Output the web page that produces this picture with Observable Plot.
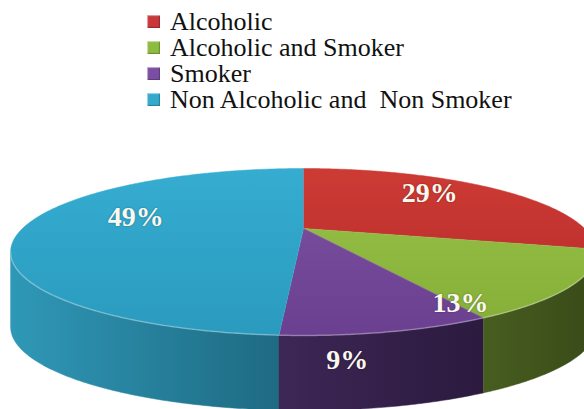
<!DOCTYPE html>
<html><head><meta charset="utf-8">
<script src="https://cdn.jsdelivr.net/npm/d3@7"></script>
<script src="https://cdn.jsdelivr.net/npm/@observablehq/plot@0.6"></script>
<style>
body{margin:0;background:#fff;overflow:hidden}
#chart{position:relative;width:584px;height:409px;overflow:hidden;background:#fff}
#legend{position:relative;width:584px;height:122px;color:#111}
.row{position:absolute;left:0;width:584px;height:26px}
.sw{position:absolute;left:147px;top:6px;width:13px;height:13px;box-shadow:inset 1px 1px 1px rgba(255,255,255,.55),inset -1px -1px 1px rgba(0,0,0,.25)}
.tx{position:absolute;left:170px;top:0;font-size:26px;line-height:26px;white-space:pre}
.pct{position:absolute;transform:translate(-50%,-50%);font-weight:bold;font-size:28px;line-height:28px;color:#fbf8ef;white-space:nowrap;text-shadow:0 0 2px rgba(0,0,0,.35)}
</style>
</head><body><div id="chart"><div id="legend"></div></div>
<script>
// ---- data ----
const categories = ["Alcoholic", "Alcoholic and Smoker", "Smoker", "Non Alcoholic and\u00a0 Non Smoker"];
const values = [29, 13, 9, 49];
const valueLabels = ["29%", "13%", "9%", "49%"];

// ---- styles ----
const serifFace = "'Liberation Serif'";
const topColors = [["#cd3b34", "#b3272a"], ["#98c348", "#84ad37"], ["#7e52a4", "#6a3f8f"], ["#35add1", "#2a9abd"]];
const wallColors = [["#8a2222", "#6e1a1a"], ["#4c6323", "#3a4c18"], ["#3f2959", "#2c1a3f"], ["#2f98b7", "#1e6a82"]];
const legendColors = ["#c8373a", "#8cbb3f", "#7a4fa3", "#33a9cc"];

// ---- layout ----
const W = 584, H = 409, legendH = 122;
const legendBase = 31, lineH = 26, baselineInRow = 22;

// ---- legend (HTML, above the SVG) ----
const legend = d3.select("#legend");
categories.forEach((c, i) => {
  const row = legend.append("div").attr("class", "row").style("top", (legendBase + i * lineH - baselineInRow) + "px");
  row.append("div").attr("class", "sw").style("background", legendColors[i]);
  row.append("div").attr("class", "tx").attr("style", `font-family:${serifFace}`).text(c);
});

// ---- geometry (perspective 3D pie, page coordinates) ----
const cx = 303, cy = 228, K = 961, D = 3.419, sinP = 0.2735, cosP = Math.sqrt(1 - sinP * sinP), wall = 75;
function proj(theta, r = 1, drop = 0) {
  const X = r * Math.sin(theta), Z = r * Math.cos(theta);
  const depth = D + Z * cosP;
  return {x: cx + K * X / depth, y: cy - K * Z * sinP / depth + drop};
}
function arcPts(a0, a1, drop = 0) {
  const n = Math.max(2, Math.ceil(Math.abs(a1 - a0) / (Math.PI / 360)));
  return d3.range(n + 1).map(k => proj(a0 + (a1 - a0) * k / n, 1, drop));
}
const arcs = d3.pie().sort(null).value(d => d)(values);
const thL = Math.acos(-cosP / D), thR = 2 * Math.PI - thL;

// label placement (angle deg, radius, drop as fraction of wall)
const labelPlace = [[45, 0.73, 0], [150, 0.88, 0], [173.5, 1, 0.35], [283, 0.635, 0]];
const labelPts = labelPlace.map(([a, r, f], i) => ({...proj(a * Math.PI / 180, r, f * wall), text: valueLabels[i]}));

const tops = arcs.map((a) => [{x: cx, y: cy}, ...arcPts(a.startAngle, a.endAngle)]);
const walls = arcs.map((a, i) => {
  const s = Math.max(a.startAngle, thL), e = Math.min(a.endAngle, thR);
  if (e <= s) return null;
  return {i, mid: (s + e) / 2, pts: [...arcPts(s, e), ...arcPts(e, s, wall)]};
}).filter(Boolean).sort((p, q) => Math.cos(q.mid) - Math.cos(p.mid));
const shadow = arcPts(0, 2 * Math.PI, wall + 4);
const rim = arcPts(thL, thR);

function defs() {
  const d = d3.create("svg:defs");
  topColors.forEach((c, i) => {
    const g = d.append("linearGradient").attr("id", "top" + i).attr("gradientUnits", "userSpaceOnUse")
      .attr("x1", 0).attr("y1", 165 - legendH).attr("x2", 0).attr("y2", 340 - legendH);
    g.append("stop").attr("offset", 0).attr("stop-color", c[0]);
    g.append("stop").attr("offset", 1).attr("stop-color", c[1]);
  });
  wallColors.forEach((c, i) => {
    const g = d.append("linearGradient").attr("id", "wall" + i).attr("gradientUnits", "userSpaceOnUse")
      .attr("x1", i === 3 ? 10 : i === 2 ? 250 : 450).attr("y1", 0)
      .attr("x2", i === 3 ? 280 : i === 2 ? 480 : 584).attr("y2", 0);
    g.append("stop").attr("offset", 0).attr("stop-color", c[0]);
    g.append("stop").attr("offset", 1).attr("stop-color", c[1]);
  });
  const f = d.append("filter").attr("id", "blur").attr("x", "-20%").attr("y", "-20%").attr("width", "140%").attr("height", "140%");
  f.append("feGaussianBlur").attr("stdDeviation", 4);
  return d.node();
}

const plot = Plot.plot({
  width: W, height: H - legendH, margin: 0,
  x: {domain: [0, W], axis: null},
  y: {domain: [legendH, H], reverse: true, axis: null},
  style: {background: "white", overflow: "hidden", display: "block"},
  marks: [
    defs,
    Plot.line(shadow, {x: "x", y: "y", fill: "#000", fillOpacity: 0.35, stroke: "none", ariaLabel: "shadow"}),
    ...walls.map(w => Plot.line(w.pts, {x: "x", y: "y", fill: `url(#wall${w.i})`, stroke: `url(#wall${w.i})`, strokeWidth: 0.5})),
    ...tops.map((t, i) => Plot.line(t, {x: "x", y: "y", fill: `url(#top${i})`, stroke: `url(#top${i})`, strokeWidth: 0.5})),
    Plot.line(rim, {x: "x", y: "y", stroke: "#fff", strokeOpacity: 0.3, strokeWidth: 1.5})
  ]
});
d3.select(plot).select('g[aria-label="shadow"]').attr("filter", "url(#blur)");
const chart = document.getElementById("chart");
chart.appendChild(plot);

// percent labels positioned through the plot's own x/y scales
const sx = plot.scale("x"), sy = plot.scale("y");
labelPts.forEach(p => {
  d3.select(chart).append("div").attr("class", "pct")
    .attr("style", `font-family:${serifFace};left:${sx.apply(p.x)}px;top:${legendH + sy.apply(p.y)}px`)
    .text(p.text);
});
</script>
</body></html>
